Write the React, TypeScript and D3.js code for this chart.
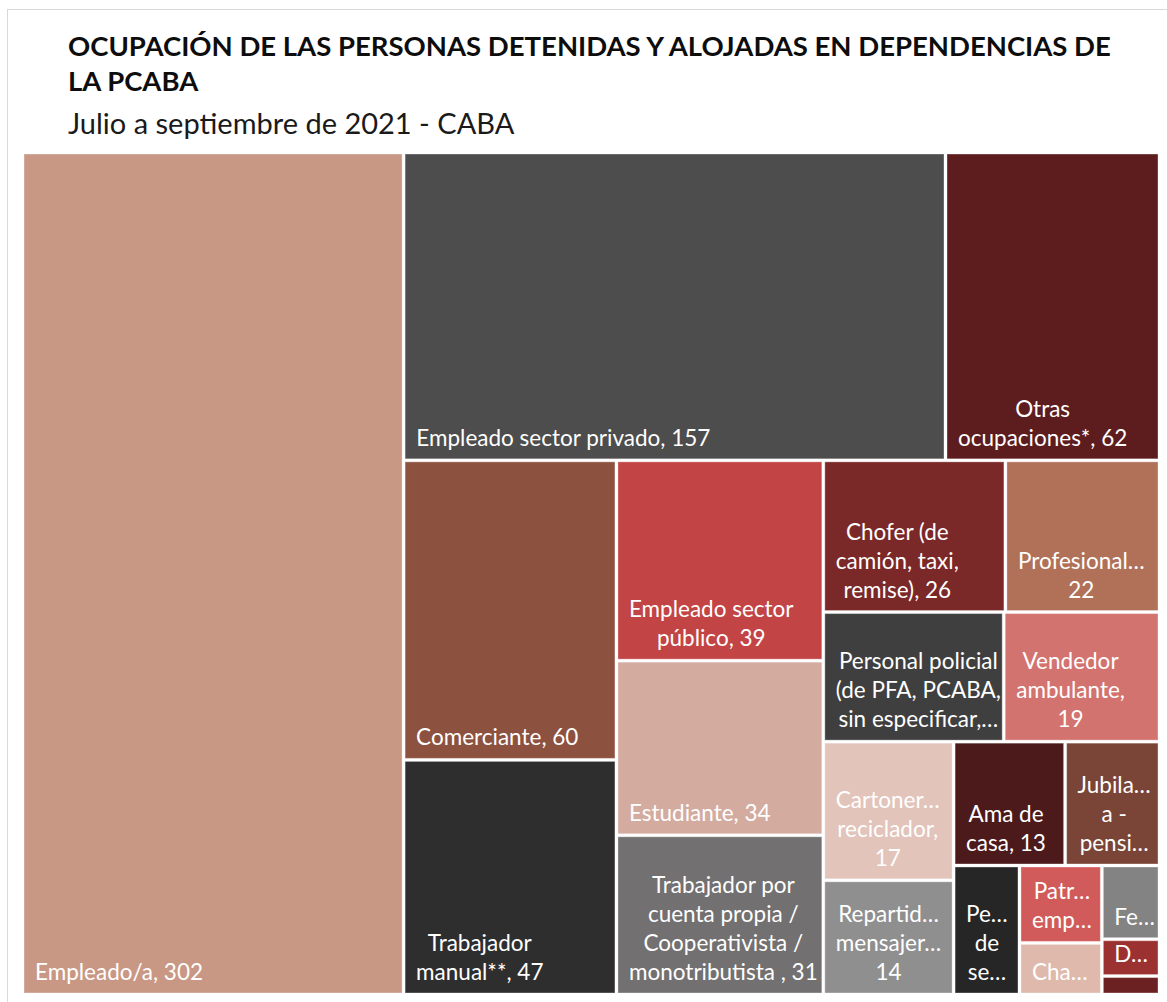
import * as d3 from "d3";
import { useMemo } from "react";

// ocupaciones y cantidad de personas (julio a septiembre 2021)
const categories = [
  "Empleado/a",
  "Empleado sector privado",
  "Otras ocupaciones*",
  "Comerciante",
  "Trabajador manual**",
  "Empleado sector público",
  "Estudiante",
  "Trabajador por cuenta propia / Cooperativista / monotributista ",
  "Chofer (de camión, taxi, remise)",
  "Profesionales",
  "Personal policial (de PFA, PCABA, sin especificar, etc.)",
  "Vendedor ambulante",
  "Cartonero/a reciclador",
  "Repartidor/a mensajero/a",
  "Ama de casa",
  "Jubilado/ a - pensionado/ a",
  "Personal de seguridad",
  "Patrón/ empleador",
  "Changarín",
  "Feriante",
  "Desocupado",
  "Sin dato",
];
const values = [302, 157, 62, 60, 47, 39, 34, 31, 26, 22, 22, 19, 17, 14, 13, 11, 8, 6, 4, 4, 2, 1];
const colors = [
  "#C99885", "#4D4D4D", "#5D1D1E", "#8D5140", "#2E2E2E", "#C24444",
  "#D4AB9F", "#727070", "#7B2828", "#B07158", "#3F3F3F", "#D37370",
  "#E2C4BA", "#8F8F8F", "#4C1A1B", "#7A4536", "#262626", "#D05B5A",
  "#DEB9AC", "#848383", "#9C3132", "#6B2021",
];

const titleLines = [
  "OCUPACIÓN DE LAS PERSONAS DETENIDAS Y ALOJADAS EN DEPENDENCIAS DE",
  "LA PCABA",
];
const subtitle = "Julio a septiembre de 2021 - CABA";

const FONT = "Lato";
const LABEL_SIZE = 22.5;
const LINE_H = 29;
const WRAP_SIZE = 24; // el corte de renglones se calcula con anchos tipo Calibri 18pt
const PAD = 15;

// anchos aproximados de Calibri (em)
const calibriW: Record<string, number> = {
  " ": 0.226, "(": 0.303, ")": 0.303, "*": 0.498, ",": 0.25, "-": 0.306, ".": 0.252, "/": 0.386,
  "…": 0.68,
  A: 0.579, B: 0.544, C: 0.533, D: 0.615, E: 0.488, F: 0.459, G: 0.631, H: 0.623, I: 0.252,
  J: 0.319, K: 0.52, L: 0.42, M: 0.855, N: 0.646, O: 0.662, P: 0.517, Q: 0.673, R: 0.543,
  S: 0.459, T: 0.487, U: 0.642, V: 0.567, W: 0.89, X: 0.519, Y: 0.487, Z: 0.468,
  a: 0.479, b: 0.525, c: 0.423, d: 0.525, e: 0.498, f: 0.305, g: 0.471, h: 0.525, i: 0.229,
  j: 0.239, k: 0.455, l: 0.229, m: 0.799, n: 0.525, o: 0.527, p: 0.525, q: 0.525, r: 0.349,
  s: 0.391, t: 0.335, u: 0.525, v: 0.452, w: 0.715, x: 0.433, y: 0.453, z: 0.395,
};
function measure(s: string) {
  let w = 0;
  for (const ch of s) {
    const base = ch === "…" ? ch : ch.normalize("NFD")[0];
    w += calibriW[base] ?? (/[0-9]/.test(base) ? 0.507 : 0.5);
  }
  return w * WRAP_SIZE;
}

// squarify como d3 pero permitiendo ratio < 1 (Excel corta antes la primera fila)
function squarifyRatio(ratio: number) {
  return function (parent: any, x0: number, y0: number, x1: number, y1: number) {
    const nodes = parent.children;
    const n = nodes.length;
    let i0 = 0, i1 = 0, value = parent.value;
    let prevDice: boolean | null = null;
    while (i0 < n) {
      const dx = x1 - x0, dy = y1 - y0;
      let sumValue = 0;
      do sumValue = nodes[i1++].value; while (!sumValue && i1 < n);
      let minValue = sumValue, maxValue = sumValue;
      const alpha = Math.max(dy / dx, dx / dy) / (value * ratio);
      let beta = sumValue * sumValue * alpha;
      let minRatio = Math.max(maxValue / beta, beta / minValue);
      for (; i1 < n; ++i1) {
        const nodeValue = nodes[i1].value;
        sumValue += nodeValue;
        if (nodeValue < minValue) minValue = nodeValue;
        if (nodeValue > maxValue) maxValue = nodeValue;
        beta = sumValue * sumValue * alpha;
        const newRatio = Math.max(maxValue / beta, beta / minValue);
        if (newRatio > minRatio) {
          sumValue -= nodeValue;
          break;
        }
        minRatio = newRatio;
      }
      const row = { value: sumValue, children: nodes.slice(i0, i1) };
      // casi cuadrado: se mantiene la orientación anterior
      let dice = dx < dy;
      if (prevDice !== null && Math.abs(dx / dy - 1) < 0.05) dice = prevDice;
      prevDice = dice;
      if (dice) {
        const ny = value ? y0 + (dy * sumValue) / value : y1;
        d3.treemapDice(row as any, x0, y0, x1, ny);
        y0 = ny;
      } else {
        const nx = value ? x0 + (dx * sumValue) / value : x1;
        d3.treemapSlice(row as any, x0, y0, nx, y1);
        x0 = nx;
      }
      value -= sumValue;
      i0 = i1;
    }
  };
}

function ellipsis(s: string, w: number, force = false) {
  if (!force && measure(s) <= w) return s;
  if (s.endsWith("…")) return s;
  let t = s;
  while (t.length && measure(t + "…") > w) t = t.slice(0, -1);
  return t.length ? t + "…" : "";
}

// partir la etiqueta en renglones como Excel
function wrapLabel(label: string, w: number, h: number) {
  const words = label.split(" ").filter((d) => d.length);
  const lines: string[] = [];
  let cur = "";
  words.forEach((wd) => {
    if (!cur) cur = wd;
    else if (measure(cur + " " + wd) <= w) cur += " " + wd;
    else {
      lines.push(cur);
      cur = wd;
    }
  });
  if (cur) lines.push(cur);
  let maxLines = Math.floor((h - 15) / LINE_H);
  if (maxLines < 1 && h >= 30) maxLines = 1;
  let out = lines.map((l) => ellipsis(l, w));
  if (out.length > maxLines) {
    out = out.slice(0, Math.max(0, maxLines));
    if (maxLines > 0) out[maxLines - 1] = ellipsis(lines[maxLines - 1], w, true);
  }
  return out.filter((l) => l.length);
}

export default function App() {
  const width = 1167;
  const height = 1002;
  const margin = { top: 154, left: 24 };
  const innerW = 1158 - margin.left;
  const innerH = 993 - margin.top;

  const leaves = useMemo(() => {
    const data = {
      children: categories.map((c, i) => ({ name: c, value: values[i], color: colors[i] })),
    };
    const root = d3.hierarchy<any>(data).sum((d: any) => d.value || 0);
    d3.treemap<any>().tile(squarifyRatio(0.9) as any).size([innerW, innerH]).paddingInner(3)(root);
    return root.leaves() as d3.HierarchyRectangularNode<any>[];
  }, []);

  const ctx = useMemo(() => document.createElement("canvas").getContext("2d")!, []);
  const renderW = (s: string) => {
    ctx.font = `${LABEL_SIZE}px ${FONT}`;
    return ctx.measureText(s).width;
  };

  return (
    <svg
      width={width}
      height={height}
      style={{ position: "absolute", left: 0, top: 0, background: "#fff" }}
    >
      <rect x={7.5} y={9.5} width={1200} height={1100} fill="none" stroke="#d9d9d9" />
      <g fontFamily={FONT}>
        {titleLines.map((t, i) => (
          <text key={i} x={68} y={56 + i * 35} fontSize={27.5} fontWeight={700} fill="#0d0d0d">
            {t}
          </text>
        ))}
        <text x={68} y={134} fontSize={29} fill="#1a1a1a">
          {subtitle}
        </text>
      </g>
      <g transform={`translate(${margin.left},${margin.top})`} fontFamily={FONT}>
        {leaves.map((d, i) => {
          const w = d.x1 - d.x0;
          const h = d.y1 - d.y0;
          const lines = wrapLabel(`${d.data.name}, ${d.data.value}`, w - PAD, h);
          const blockW = d3.max(lines.map(renderW)) || 0;
          const baseY = d.y1 - 13 - (lines.length - 1) * LINE_H;
          return (
            <g key={i}>
              <rect
                x={d.x0}
                y={d.y0}
                width={w}
                height={h}
                fill={d.data.color}
                stroke="#fff"
                strokeOpacity={0.35}
                strokeWidth={1}
              />
              {lines.map((l, j) => (
                <text
                  key={j}
                  x={d.x0 + 11 + blockW / 2}
                  y={baseY + j * LINE_H}
                  textAnchor="middle"
                  fontSize={LABEL_SIZE}
                  fill="#fff"
                >
                  {l}
                </text>
              ))}
            </g>
          );
        })}
      </g>
    </svg>
  );
}
